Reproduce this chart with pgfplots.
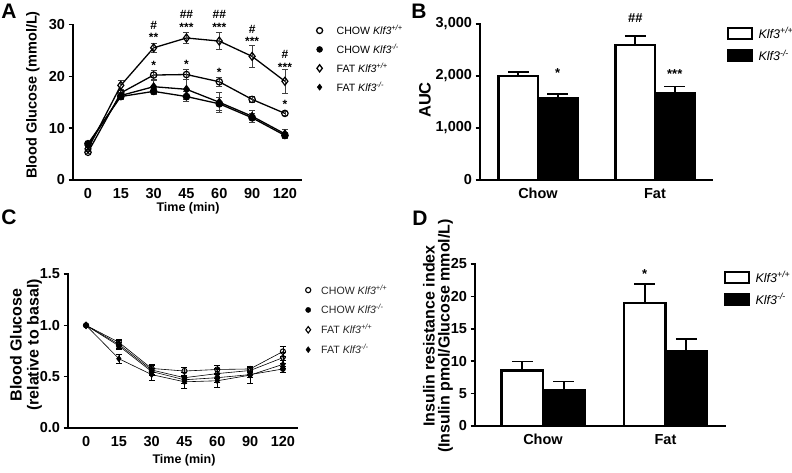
\documentclass[border=0pt]{standalone}
\usepackage{fontspec}
\setmainfont{Liberation Sans}
\usepackage{pgfplots}
\pgfplotsset{compat=1.18}

\pgfplotsset{
  prism/.style={
    scale only axis,
    axis lines=left,
    axis line style={-, line width=1.9pt, line cap=rect},
    tick align=outside,
    major tick length=4.5pt,
    ytick style={black, line width=1.5pt},
    xtick style={draw=none},
    ticklabel style={font=\fontsize{14.5}{15}\selectfont\bfseries},
    /pgf/number format/assume math mode=true,
    clip=false,
  },
  mlegA/.style={legend image code/.code={\path[draw=none,fill=none] (0pt,0pt) -- (30pt,0pt); \draw[mark repeat=2,mark phase=2,##1] plot coordinates {(0pt,0pt) (15pt,0pt) (30pt,0pt)};}},
  mlegC/.style={legend image code/.code={\path[draw=none,fill=none] (0pt,0pt) -- (22pt,0pt); \draw[mark repeat=2,mark phase=2,##1] plot coordinates {(0pt,0pt) (11pt,0pt) (22pt,0pt)};}},
  errA/.style={error bars/.cd, y dir=both, y explicit, error bar style={line width=0.8pt, black!75}, error mark options={rotate=90, mark size=3pt, line width=0.8pt, black!75}},
  errC/.style={error bars/.cd, y dir=both, y explicit, error bar style={line width=0.6pt, black}, error mark options={rotate=90, mark size=3pt, line width=0.6pt, black}},
  errB/.style={error bars/.cd, y dir=plus, y explicit, error bar style={line width=1.6pt, black}, error mark options={rotate=90, mark size=10.5pt, line width=1.6pt, black}},
}

\begin{document}
\begin{tikzpicture}[x=1pt,y=1pt]
\path[use as bounding box] (0,0) rectangle (792,472);

% ---------------- Panel A ----------------
\begin{axis}[prism, at={(73pt,292pt)}, anchor=south west,
  width=228pt, height=155.5pt,
  xmin=-0.457, xmax=6.49, ymin=0, ymax=30,
  ytick={0,10,20,30},
  xtick={0,1,2,3,4,5,6}, xticklabels={0,15,30,45,60,90,120},
  legend cell align=left,
  legend style={at={(rel axis cs:1.015,1.01)}, anchor=north west, draw=none, fill=none,
    font=\fontsize{10.6}{12}\selectfont, row sep=4pt, inner sep=0pt},
]
\addplot[forget plot, black, line width=1.3pt, mark=*, mark size=3.2pt, mark options={solid, fill=black}, errA]
 coordinates {(0,7.0)+-(0,0.4) (1,16.1)+-(0,0.5) (2,17.1)+-(0,0.6) (3,16.1)+-(0,1.0) (4,14.7)+-(0,1.2) (5,12.0)+-(0,0.8) (6,8.6)+-(0,0.6)};
\addplot[forget plot, black, line width=1.3pt, mark=diamond*, mark size=3.6pt, mark options={solid, fill=black}, errA]
 coordinates {(0,6.7)+-(0,0.4) (1,16.3)+-(0,0.6) (2,18.0)+-(0,1.3) (3,17.5)+-(0,1.9) (4,15.0)+-(0,1.9) (5,12.3)+-(0,1.1) (6,8.9)+-(0,0.8)};
\addplot[forget plot, black, line width=1.3pt, mark=o, mark size=3.2pt, mark options={solid, fill=white, line width=1.2pt}, errA]
 coordinates {(0,5.35)+-(0,0.3) (1,16.8)+-(0,0.6) (2,20.25)+-(0,0.9) (3,20.35)+-(0,0.9) (4,18.95)+-(0,0.9) (5,15.55)+-(0,0.6) (6,12.85)+-(0,0.4)};
\addplot[forget plot, black, line width=1.3pt, mark=diamond, mark size=4pt, mark options={solid, fill=white, line width=1.2pt}, errA]
 coordinates {(0,6.0)+-(0,0.4) (1,18.25)+-(0,0.9) (2,25.5)+-(0,0.9) (3,27.4)+-(0,1.1) (4,26.8)+-(0,1.7) (5,23.85)+-(0,2.1) (6,19.05)+-(0,2.3)};
\addlegendimage{only marks, mark=o, mark size=3pt, mark options={line width=1.3pt, fill=white}, mlegA}
\addlegendentry{CHOW \textit{Klf3}\textsuperscript{\textit{+/+}}}
\addlegendimage{only marks, mark=*, mark size=3pt, mark options={fill=black}, mlegA}
\addlegendentry{CHOW \textit{Klf3}\textsuperscript{\textit{-/-}}}
\addlegendimage{only marks, mark=diamond, mark size=3.6pt, mark options={line width=1.3pt, fill=white}, mlegA}
\addlegendentry{FAT \textit{Klf3}\textsuperscript{\textit{+/+}}}
\addlegendimage{only marks, mark=diamond*, mark size=3.2pt, mark options={fill=black}, mlegA}
\addlegendentry{FAT \textit{Klf3}\textsuperscript{\textit{-/-}}}
% annotations
\begin{scope}[every node/.style={font=\fontsize{12}{12}\selectfont\bfseries, inner sep=0pt}]
\node at (axis cs:2,29.9) {\#};
\node at (axis cs:2,27.6) {**};
\node at (axis cs:2,22.1) {*};
\node at (axis cs:3,31.9) {\#\#};
\node at (axis cs:3,29.5) {***};
\node at (axis cs:3,22.3) {*};
\node at (axis cs:4,31.9) {\#\#};
\node at (axis cs:4,29.5) {***};
\node at (axis cs:4,20.8) {*};
\node at (axis cs:5,29.1) {\#};
\node at (axis cs:5,26.7) {***};
\node at (axis cs:6,24.2) {\#};
\node at (axis cs:6,21.7) {***};
\node at (axis cs:6,14.5) {*};
\end{scope}
\end{axis}

% ---------------- Panel B ----------------
\begin{axis}[prism, at={(480pt,292pt)}, anchor=south west,
  width=232pt, height=156pt,
  xmin=0, xmax=232, ymin=0, ymax=3000,
  ybar, bar width=39.5pt,
  ytick={0,1000,2000,3000}, yticklabels={0,{1,000},{2,000},{3,000}},
  xtick={58,175}, xticklabels={Chow,Fat},
  legend cell align=left,
  legend style={at={(axis cs:247,2975)}, anchor=north west, draw=none, fill=none,
    font=\fontsize{12.5}{14}\selectfont, row sep=6pt, inner sep=0pt},
]
\addplot[forget plot, bar shift=0pt, fill=white, draw=black, line width=2.2pt, errB]
 coordinates {(38.25,2000)+-(0,75) (155.25,2590)+-(0,185)};
\addplot[forget plot, bar shift=0pt, fill=black, draw=black, line width=2.2pt, errB]
 coordinates {(77.75,1575)+-(0,80) (194.75,1675)+-(0,125)};
\addlegendimage{legend image code/.code={\path[draw=none,fill=none] (0pt,0pt) -- (28.5pt,0pt); \draw[line width=1.8pt, fill=white] (0pt,-5.5pt) rectangle (24pt,5.5pt);}}
\addlegendentry{\textit{Klf3}\textsuperscript{\textit{+/+}}}
\addlegendimage{legend image code/.code={\path[draw=none,fill=none] (0pt,0pt) -- (28.5pt,0pt); \draw[line width=1.8pt, fill=black] (0pt,-5.5pt) rectangle (24pt,5.5pt);}}
\addlegendentry{\textit{Klf3}\textsuperscript{\textit{-/-}}}
\begin{scope}[every node/.style={font=\fontsize{13}{13}\selectfont\bfseries, inner sep=0pt}]
\node at (axis cs:77.75,2060) {*};
\node at (axis cs:155.25,3110) {\#\#};
\node at (axis cs:194.75,2040) {***};
\end{scope}
\end{axis}

% ---------------- Panel C ----------------
\begin{axis}[prism, at={(68pt,44pt)}, anchor=south west,
  width=229pt, height=154pt,
  xmin=-0.55, xmax=6.43, ymin=0, ymax=1.5,
  ytick={0,0.5,1,1.5}, yticklabels={0.0,0.5,1.0,1.5},
  xtick={0,1,2,3,4,5,6}, xticklabels={0,15,30,45,60,90,120},
  legend cell align=left,
  legend style={at={(rel axis cs:1.0,0.945)}, anchor=north west, draw=none, fill=none,
    font=\fontsize{10.6}{12}\selectfont, text=black!85, row sep=5pt, inner sep=0pt},
]
\addplot[forget plot, black, line width=0.6pt, mark=*, mark size=2.6pt, mark options={solid, fill=black}, errC]
 coordinates {(0,1.0) (1,0.80)+-(0,0.03) (2,0.55)+-(0,0.03) (3,0.47)+-(0,0.03) (4,0.49)+-(0,0.04) (5,0.52)+-(0,0.03) (6,0.575)+-(0,0.03)};
\addplot[forget plot, black, line width=0.6pt, mark=diamond*, mark size=3pt, mark options={solid, fill=black}, errC]
 coordinates {(0,1.0) (1,0.675)+-(0,0.04) (2,0.52)+-(0,0.06) (3,0.45)+-(0,0.06) (4,0.46)+-(0,0.06) (5,0.515)+-(0,0.075) (6,0.62)+-(0,0.04)};
\addplot[forget plot, black, line width=0.6pt, mark=o, mark size=2.6pt, mark options={solid, fill=white, line width=1pt}, errC]
 coordinates {(0,1.0) (1,0.835)+-(0,0.03) (2,0.58)+-(0,0.04) (3,0.555)+-(0,0.04) (4,0.57)+-(0,0.04) (5,0.575)+-(0,0.03) (6,0.745)+-(0,0.05)};
\addplot[forget plot, black, line width=0.6pt, mark=diamond, mark size=3.2pt, mark options={solid, fill=white, line width=1pt}, errC]
 coordinates {(0,1.0) (1,0.815)+-(0,0.04) (2,0.565)+-(0,0.05) (3,0.49)+-(0,0.05) (4,0.53)+-(0,0.05) (5,0.56)+-(0,0.04) (6,0.685)+-(0,0.05)};
\addlegendimage{only marks, mark=o, mark size=2.6pt, mark options={line width=1.1pt, fill=white}, mlegC}
\addlegendentry{CHOW \textit{Klf3}\textsuperscript{\textit{+/+}}}
\addlegendimage{only marks, mark=*, mark size=2.6pt, mark options={fill=black}, mlegC}
\addlegendentry{CHOW \textit{Klf3}\textsuperscript{\textit{-/-}}}
\addlegendimage{only marks, mark=diamond, mark size=3.2pt, mark options={line width=1.1pt, fill=white}, mlegC}
\addlegendentry{FAT \textit{Klf3}\textsuperscript{\textit{+/+}}}
\addlegendimage{only marks, mark=diamond*, mark size=3pt, mark options={fill=black}, mlegC}
\addlegendentry{FAT \textit{Klf3}\textsuperscript{\textit{-/-}}}
\end{axis}

% ---------------- Panel D ----------------
\begin{axis}[prism, at={(475pt,46pt)}, anchor=south west,
  width=250pt, height=162pt,
  xmin=0, xmax=250, ymin=0, ymax=25,
  ybar, bar width=41.5pt,
  ytick={0,5,10,15,20,25},
  xtick={68,190.5}, xticklabels={Chow,Fat},
  legend cell align=left,
  legend style={at={(axis cs:249,24.2)}, anchor=north west, draw=none, fill=none,
    font=\fontsize{12.5}{14}\selectfont, row sep=6pt, inner sep=0pt},
]
\addplot[forget plot, bar shift=0pt, fill=white, draw=black, line width=2.2pt, errB]
 coordinates {(47.25,8.55)+-(0,1.4) (169.75,18.93)+-(0,3.0)};
\addplot[forget plot, bar shift=0pt, fill=black, draw=black, line width=2.2pt, errB]
 coordinates {(88.75,5.56)+-(0,1.3) (211.25,11.5)+-(0,1.9)};
\addlegendimage{legend image code/.code={\path[draw=none,fill=none] (0pt,0pt) -- (28.5pt,0pt); \draw[line width=1.8pt, fill=white] (0pt,-5.5pt) rectangle (24pt,5.5pt);}}
\addlegendentry{\textit{Klf3}\textsuperscript{\textit{+/+}}}
\addlegendimage{legend image code/.code={\path[draw=none,fill=none] (0pt,0pt) -- (28.5pt,0pt); \draw[line width=1.8pt, fill=black] (0pt,-5.5pt) rectangle (24pt,5.5pt);}}
\addlegendentry{\textit{Klf3}\textsuperscript{\textit{-/-}}}
\node[font=\fontsize{13}{13}\selectfont\bfseries, inner sep=0pt] at (axis cs:169.75,23.4) {*};
\end{axis}

% ---------------- labels ----------------
\node[font=\fontsize{21}{21}\selectfont\bfseries] at (9,461) {A};
\node[font=\fontsize{21}{21}\selectfont\bfseries] at (419,461) {B};
\node[font=\fontsize{21}{21}\selectfont\bfseries] at (9,254.5) {C};
\node[font=\fontsize{21}{21}\selectfont\bfseries] at (420,253.5) {D};

\node[rotate=90, font=\fontsize{14.5}{14.5}\selectfont\bfseries] at (33,377) {Blood Glucose (mmol/L)};
\node[font=\fontsize{12.5}{12.5}\selectfont\bfseries] at (188,264) {Time (min)};
\node[rotate=90, font=\fontsize{16.5}{16.5}\selectfont\bfseries] at (425,372) {AUC};
\node[rotate=90, align=center, font=\fontsize{16}{17}\selectfont\bfseries] at (26,127) {Blood Glucose\\(relative to basal)};
\node[font=\fontsize{12.5}{12.5}\selectfont\bfseries] at (184,12) {Time (min)};
\node[rotate=90, align=center, font=\fontsize{16}{15}\selectfont\bfseries] at (438,136) {Insulin resistance index\\(Insulin pmol/Glucose mmol/L)};
\end{tikzpicture}
\end{document}
